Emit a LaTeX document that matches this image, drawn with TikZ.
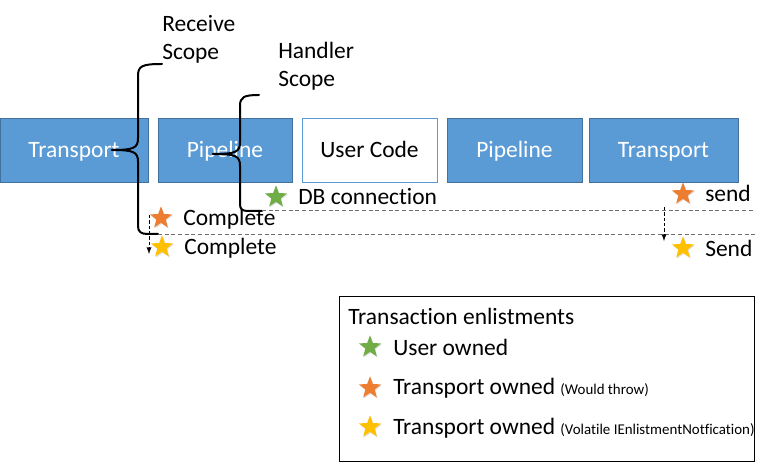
\documentclass[tikz,border=0pt]{standalone}
\usepackage{fontspec}
\setmainfont[Ligatures=NoCommon]{Carlito}
\usepackage{tikz}
\usetikzlibrary{shapes.geometric, shadows}

\definecolor{stageblue}{HTML}{5B9BD5}
\definecolor{stageedge}{HTML}{41719C}
\definecolor{usergreen}{HTML}{70AD47}
\definecolor{throworange}{HTML}{ED7D31}
\definecolor{volyellow}{HTML}{FFC000}
\definecolor{dashgray}{HTML}{6F6F6F}

\newcommand{\txtbig}{\fontsize{17.6}{21}\selectfont}
\newcommand{\txtsmall}{\fontsize{11.2}{13}\selectfont}

\tikzset{
  stage/.style={draw=stageedge, fill=stageblue, text=white, minimum height=48pt,
    inner sep=0pt, text height=14pt, text depth=2pt, font=\txtbig},
  usercode/.style={stage, draw=stageblue, fill=white, text=black},
  enlist/.style={star, star points=5, star point ratio=2.4, minimum size=17.5pt,
    inner sep=0pt, fill=#1, drop shadow={opacity=0.25, shadow xshift=0.6pt, shadow yshift=-0.8pt}},
  lbl/.style={anchor=west, inner sep=0pt, font=\txtbig},
  brace/.style={line width=1.5pt, line cap=round, line join=round},
  timeline/.style={dashgray, dashed, dash pattern=on 3pt off 2pt, line width=0.75pt},
  handoff/.style={->, dashed, dash pattern=on 2.5pt off 1.5pt, line width=0.75pt}
}

\begin{document}
\begin{tikzpicture}[x=0.75pt, y=-0.75pt, >=latex]
  \useasboundingbox (0,0) rectangle (769,463);

  % stages
  \node [stage, minimum width=111pt] (transportIn) at (74,150) {Transport};
  \node [stage, minimum width=100.5pt] (pipelineIn) at (225,150) {Pipeline};
  \node [usercode, minimum width=101pt] (user) at (369.5,150) {User Code};
  \node [stage, minimum width=101pt] (pipelineOut) at (514.5,150) {Pipeline};
  \node [stage, minimum width=111.5pt] (transportOut) at (663.5,150) {Transport};

  % scope labels
  \node [anchor=north west, inner sep=0pt, align=left, font=\txtbig] (receiveLbl) at (162,15) {Receive\\Scope};
  \node [anchor=north west, inner sep=0pt, align=left, font=\txtbig] (handlerLbl) at (278,42) {Handler\\Scope};

  % braces
  \coordinate (receiveTop) at (162,64);
  \coordinate (receiveTip) at (112,150);
  \coordinate (receiveEnd) at (158,234);
  \coordinate (handlerTop) at (259,95);
  \coordinate (handlerTip) at (213,154);
  \coordinate (handlerEnd) at (262,211);

  \draw [brace] (receiveTop) .. controls (142,64) and (138,66) .. (138,76) -- (138,138)
    .. controls (138,148) and (134,150) .. (receiveTip);
  \draw [brace] (receiveTip) .. controls (134,150) and (138,152) .. (138,162) -- (138,226)
    .. controls (138,232) and (141,234) .. (148,234) -- (receiveEnd);
  \draw [brace] (handlerTop) .. controls (244,95) and (240,97) .. (240,106) -- (240,142)
    .. controls (240,152) and (236,154) .. (handlerTip);
  \draw [brace] (handlerTip) .. controls (236,154) and (240,156) .. (240,166) -- (240,204)
    .. controls (240,209) and (242,211) .. (248,211) -- (handlerEnd);

  % commit lines
  \coordinate (handlerRight) at (755,211);
  \coordinate (receiveRight) at (755,235);
  \draw [timeline] (handlerEnd) -- (handlerRight);
  \draw [timeline] (receiveEnd |- receiveRight) -- (receiveRight);

  % enlistments
  \node [enlist=usergreen] (dbStar) at (276,197) {};
  \node [lbl] (dbLbl) at (298,197) {DB connection};
  \node [enlist=throworange] (completeStar) at (161,218) {};
  \node [lbl] (completeLbl) at (183,219) {Complete};
  \node [enlist=volyellow] (completeVolStar) at (162,247) {};
  \node [lbl] (completeVolLbl) at (184,248) {Complete};
  \node [enlist=throworange] (sendStar) at (683,194) {};
  \node [lbl] (sendLbl) at (705,193) {send};
  \node [enlist=volyellow] (sendVolStar) at (683,248) {};
  \node [lbl] (sendVolLbl) at (705,248) {Send};

  \coordinate (completeFrom) at (149,215);
  \coordinate (completeTo) at (149,254);
  \coordinate (sendFrom) at (664,207);
  \coordinate (sendTo) at (664,241);
  \draw [handoff] (completeFrom) -- (completeTo);
  \draw [handoff] (sendFrom) -- (sendTo);

  % legend
  \draw [line width=0.75pt] (339,297) rectangle (754,462);
  \node [lbl] (legendTitle) at (348,316) {Transaction enlistments};
  \node [enlist=usergreen] (legendUser) at (370,347) {};
  \node [lbl] (legendUserLbl) at (393,347) {User owned};
  \node [enlist=throworange] (legendThrow) at (370,388) {};
  \node [lbl] (legendThrowLbl) at (393,388) {Transport owned {\txtsmall(Would throw)}};
  \node [enlist=volyellow] (legendVol) at (370,427) {};
  \node [lbl] (legendVolLbl) at (393,428) {Transport owned {\txtsmall(Volatile IEnlistmentNotfication)}};
\end{tikzpicture}
\end{document}
